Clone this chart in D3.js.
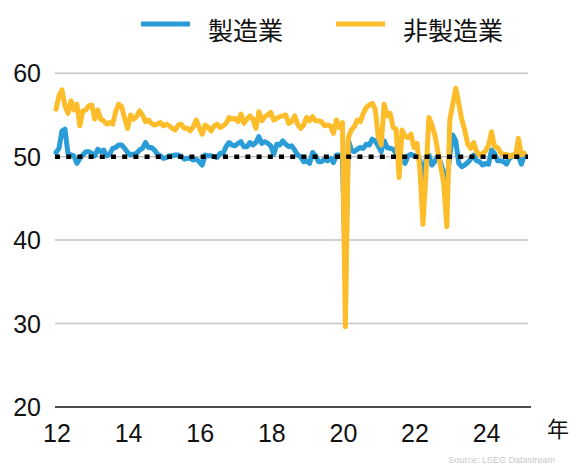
<!DOCTYPE html>
<html><head><meta charset="utf-8">
<script src="https://cdn.jsdelivr.net/npm/d3@7"></script>
<style>html,body{margin:0;padding:0;background:#fff;}</style>
</head><body><svg id="c" width="575" height="468"></svg>
<script>
const seriesNames = ["製造業", "非製造業"];
const startYear = 2012;
const manufacturing = [
50.5,51.0,53.1,53.3,50.4,50.2,50.1,49.2,49.8,50.2,50.6,50.6,
50.4,50.1,50.9,50.6,50.8,50.1,50.3,51.0,51.1,51.4,51.4,51.0,
50.5,50.2,50.3,50.4,50.8,51.0,51.7,51.1,51.1,50.8,50.3,50.1,
49.8,49.9,50.1,50.1,50.2,50.2,50.0,49.7,49.8,49.8,49.6,49.7,
49.4,49.0,50.2,50.1,50.1,50.0,49.9,50.4,50.4,51.2,51.7,51.4,
51.3,51.6,51.8,51.2,51.2,51.7,51.4,51.7,52.4,51.6,51.8,51.6,
51.3,50.3,51.5,51.4,51.9,51.5,51.2,51.3,50.8,50.2,50.0,49.4,
49.5,49.2,50.5,50.1,49.4,49.4,49.7,49.5,49.8,49.3,50.2,50.2,
50.0,35.7,52.0,50.8,50.6,50.9,51.1,51.0,51.5,51.4,52.1,51.9,
51.3,50.6,51.9,51.1,51.0,50.9,50.4,50.1,49.6,49.2,50.1,50.3,
50.1,50.2,49.5,47.4,49.6,50.2,49.0,49.4,50.1,49.2,48.0,47.0,
50.1,52.6,51.9,49.2,48.8,49.0,49.3,49.7,50.2,49.5,49.4,49.0,
49.2,49.1,50.8,50.4,49.5,49.5,49.4,49.1,49.8,50.1,50.3,50.1,
49.1,50.2];
const nonManufacturing = [
55.7,57.3,58.0,56.1,55.2,56.7,55.6,56.3,53.7,55.5,55.6,56.1,
56.2,54.5,55.6,54.5,54.3,53.9,54.1,53.9,55.4,56.3,56.0,54.6,
53.4,55.0,54.5,54.8,55.5,55.0,54.2,54.4,54.0,53.8,53.9,54.1,
53.7,53.9,53.7,53.4,53.2,53.8,53.9,53.4,53.4,53.1,53.6,54.4,
53.5,52.7,53.8,53.5,53.1,53.7,53.9,53.5,53.7,54.0,54.7,54.5,
54.6,54.2,55.1,54.0,54.5,54.9,54.5,53.4,55.4,54.3,54.8,55.0,
55.3,54.4,54.6,54.8,54.9,55.0,54.0,54.2,54.9,53.9,53.4,53.8,
54.7,54.3,54.8,54.3,54.3,54.2,53.7,53.8,53.7,52.8,54.4,53.5,
54.1,29.6,52.3,53.2,53.6,54.4,54.2,55.2,55.9,56.2,56.4,55.7,
52.4,51.4,56.3,54.9,55.2,53.5,53.3,47.5,53.2,52.4,52.3,52.7,
51.1,51.6,48.4,41.9,47.8,54.7,53.8,52.6,50.6,48.7,46.7,41.6,
54.4,56.3,58.2,56.4,54.5,53.2,51.5,51.0,51.7,50.6,50.2,50.4,
50.7,51.4,53.0,51.2,51.1,50.5,50.2,50.3,50.0,50.2,50.0,52.2,
50.2,50.4];
const yTicks = [20, 30, 40, 50, 60];
const xTickYears = [2012, 2014, 2016, 2018, 2020, 2022, 2024];
const xTickLabels = ["12", "14", "16", "18", "20", "22", "24"];
const threshold = 50;
const xUnit = "年";
const sourceText = "Source: LSEG Datastream";

const colors = ["#2a9dd8", "#fdbd2b"];
const svg = d3.select("#c");
const x = d3.scaleLinear().domain([2012, 2025]).range([56, 521.4]);
const y = d3.scaleLinear().domain([20, 60]).range([406.9, 73.3]);
const toPts = arr => arr.map((v, i) => ({t: startYear + i / 12, v}));

// gridlines
svg.append("g").selectAll("line").data(yTicks.filter(d => d > 20)).join("line")
  .attr("x1", 55).attr("x2", 528).attr("y1", d => y(d)).attr("y2", d => y(d))
  .attr("stroke", "#c4c4c4").attr("stroke-width", 1.5);
// base axis
svg.append("line").attr("x1", 55).attr("x2", 531).attr("y1", y(20)).attr("y2", y(20))
  .attr("stroke", "#111").attr("stroke-width", 1.5);

// y labels
svg.append("g").selectAll("text").data(yTicks).join("text")
  .attr("x", 41).attr("y", d => y(d)).attr("dy", "0.36em")
  .attr("text-anchor", "end").attr("font-family", "Liberation Sans, Arial, sans-serif")
  .attr("font-size", 25).attr("fill", "#111").text(d => d);
// x labels
svg.append("g").selectAll("text").data(xTickYears).join("text")
  .attr("x", d => x(d) + 1).attr("y", 442)
  .attr("text-anchor", "middle").attr("font-family", "Liberation Sans, Arial, sans-serif")
  .attr("font-size", 25).attr("fill", "#111").text((d, i) => xTickLabels[i]);
svg.append("text").attr("x", 558).attr("y", 437).attr("text-anchor", "middle")
  .attr("font-family", "Noto Sans CJK JP, sans-serif").attr("font-size", 22)
  .attr("fill", "#111").text(xUnit);

const line = d3.line().x(d => x(d.t)).y(d => y(d.v));
[manufacturing, nonManufacturing].forEach((arr, i) => {
  svg.append("path").datum(toPts(arr)).attr("d", line)
    .attr("fill", "none").attr("stroke", colors[i]).attr("stroke-width", 5)
    .attr("stroke-linejoin", "round").attr("stroke-linecap", "round");
});

// threshold dotted line
svg.append("line").attr("x1", 55).attr("x2", 528).attr("y1", y(threshold)).attr("y2", y(threshold))
  .attr("stroke", "#000").attr("stroke-width", 4.5).attr("stroke-dasharray", "5 6.2");

// legend
const legX = [141, 336];
seriesNames.forEach((n, i) => {
  svg.append("line").attr("x1", legX[i]).attr("x2", legX[i] + 49).attr("y1", 24).attr("y2", 24)
    .attr("stroke", colors[i]).attr("stroke-width", 5);
  svg.append("text").attr("x", legX[i] + 67).attr("y", 28.5).attr("dominant-baseline", "central")
    .attr("font-family", "Noto Sans CJK JP, sans-serif").attr("font-size", 25)
    .attr("fill", "#111").text(n);
});

svg.append("text").attr("x", 555).attr("y", 463).attr("text-anchor", "end")
  .attr("font-family", "Liberation Sans, Arial, sans-serif").attr("font-size", 9)
  .attr("fill", "#c8c8c8").text(sourceText);
</script></body></html>
